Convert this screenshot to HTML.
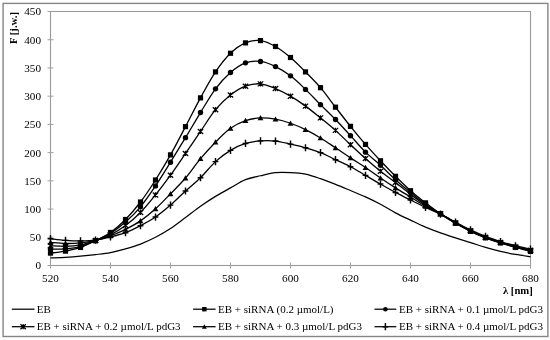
<!DOCTYPE html>
<html><head><meta charset="utf-8"><title>Fluorescence spectra</title>
<style>html,body{margin:0;padding:0;background:#fff}body{width:550px;height:340px;overflow:hidden}</style></head>
<body>
<svg width="550" height="340" viewBox="0 0 550 340" style="display:block">
<rect x="0" y="0" width="550" height="340" fill="#fff"/>
<rect x="3.1" y="3.4" width="544.8" height="333.1" fill="none" stroke="#858585" stroke-width="1.4"/>
<rect x="50.5" y="11.5" width="480.0" height="254.0" fill="none" stroke="#9a9a9a" stroke-width="1.1"/>
<line x1="47.5" x2="53.5" y1="265.5" y2="265.5" stroke="#a0a0a0" stroke-width="1"/>
<text x="41" y="269.4" text-anchor="end" font-family="Liberation Serif, serif" font-size="11.2" fill="#000">0</text>
<line x1="47.5" x2="53.5" y1="237.27777777777777" y2="237.27777777777777" stroke="#a0a0a0" stroke-width="1"/>
<text x="41" y="241.17777777777778" text-anchor="end" font-family="Liberation Serif, serif" font-size="11.2" fill="#000">50</text>
<line x1="47.5" x2="53.5" y1="209.05555555555554" y2="209.05555555555554" stroke="#a0a0a0" stroke-width="1"/>
<text x="41" y="212.95555555555555" text-anchor="end" font-family="Liberation Serif, serif" font-size="11.2" fill="#000">100</text>
<line x1="47.5" x2="53.5" y1="180.83333333333331" y2="180.83333333333331" stroke="#a0a0a0" stroke-width="1"/>
<text x="41" y="184.73333333333332" text-anchor="end" font-family="Liberation Serif, serif" font-size="11.2" fill="#000">150</text>
<line x1="47.5" x2="53.5" y1="152.61111111111111" y2="152.61111111111111" stroke="#a0a0a0" stroke-width="1"/>
<text x="41" y="156.51111111111112" text-anchor="end" font-family="Liberation Serif, serif" font-size="11.2" fill="#000">200</text>
<line x1="47.5" x2="53.5" y1="124.38888888888889" y2="124.38888888888889" stroke="#a0a0a0" stroke-width="1"/>
<text x="41" y="128.2888888888889" text-anchor="end" font-family="Liberation Serif, serif" font-size="11.2" fill="#000">250</text>
<line x1="47.5" x2="53.5" y1="96.16666666666666" y2="96.16666666666666" stroke="#a0a0a0" stroke-width="1"/>
<text x="41" y="100.06666666666666" text-anchor="end" font-family="Liberation Serif, serif" font-size="11.2" fill="#000">300</text>
<line x1="47.5" x2="53.5" y1="67.94444444444446" y2="67.94444444444446" stroke="#a0a0a0" stroke-width="1"/>
<text x="41" y="71.84444444444446" text-anchor="end" font-family="Liberation Serif, serif" font-size="11.2" fill="#000">350</text>
<line x1="47.5" x2="53.5" y1="39.72222222222223" y2="39.72222222222223" stroke="#a0a0a0" stroke-width="1"/>
<text x="41" y="43.62222222222223" text-anchor="end" font-family="Liberation Serif, serif" font-size="11.2" fill="#000">400</text>
<line x1="47.5" x2="53.5" y1="11.5" y2="11.5" stroke="#a0a0a0" stroke-width="1"/>
<text x="41" y="15.4" text-anchor="end" font-family="Liberation Serif, serif" font-size="11.2" fill="#000">450</text>
<line x1="50.5" x2="50.5" y1="262.5" y2="268.5" stroke="#a0a0a0" stroke-width="1"/>
<text x="50.5" y="281.8" text-anchor="middle" font-family="Liberation Serif, serif" font-size="11.2" fill="#000">520</text>
<line x1="110.5" x2="110.5" y1="262.5" y2="268.5" stroke="#a0a0a0" stroke-width="1"/>
<text x="110.5" y="281.8" text-anchor="middle" font-family="Liberation Serif, serif" font-size="11.2" fill="#000">540</text>
<line x1="170.5" x2="170.5" y1="262.5" y2="268.5" stroke="#a0a0a0" stroke-width="1"/>
<text x="170.5" y="281.8" text-anchor="middle" font-family="Liberation Serif, serif" font-size="11.2" fill="#000">560</text>
<line x1="230.5" x2="230.5" y1="262.5" y2="268.5" stroke="#a0a0a0" stroke-width="1"/>
<text x="230.5" y="281.8" text-anchor="middle" font-family="Liberation Serif, serif" font-size="11.2" fill="#000">580</text>
<line x1="290.5" x2="290.5" y1="262.5" y2="268.5" stroke="#a0a0a0" stroke-width="1"/>
<text x="290.5" y="281.8" text-anchor="middle" font-family="Liberation Serif, serif" font-size="11.2" fill="#000">600</text>
<line x1="350.5" x2="350.5" y1="262.5" y2="268.5" stroke="#a0a0a0" stroke-width="1"/>
<text x="350.5" y="281.8" text-anchor="middle" font-family="Liberation Serif, serif" font-size="11.2" fill="#000">620</text>
<line x1="410.5" x2="410.5" y1="262.5" y2="268.5" stroke="#a0a0a0" stroke-width="1"/>
<text x="410.5" y="281.8" text-anchor="middle" font-family="Liberation Serif, serif" font-size="11.2" fill="#000">640</text>
<line x1="470.5" x2="470.5" y1="262.5" y2="268.5" stroke="#a0a0a0" stroke-width="1"/>
<text x="470.5" y="281.8" text-anchor="middle" font-family="Liberation Serif, serif" font-size="11.2" fill="#000">660</text>
<line x1="530.5" x2="530.5" y1="262.5" y2="268.5" stroke="#a0a0a0" stroke-width="1"/>
<text x="530.5" y="281.8" text-anchor="middle" font-family="Liberation Serif, serif" font-size="11.2" fill="#000">680</text>
<text transform="translate(16.8,44) rotate(-90)" font-family="Liberation Serif, serif" font-size="10.7" font-weight="bold" fill="#000">F [j.w.]</text>
<text x="532.8" y="294.4" text-anchor="end" font-family="Liberation Serif, serif" font-size="10.7" font-weight="bold" fill="#000">λ [nm]</text>
<path d="M50.50 257.94C53.00 257.83 60.50 257.61 65.50 257.32C70.50 257.02 75.50 256.64 80.50 256.19C85.50 255.74 90.50 255.22 95.50 254.61C100.50 253.99 105.50 253.48 110.50 252.52C115.50 251.56 120.50 250.26 125.50 248.85C130.50 247.44 135.50 245.98 140.50 244.05C145.50 242.12 150.50 239.86 155.50 237.28C160.50 234.69 165.50 231.82 170.50 228.53C175.50 225.24 180.50 221.24 185.50 217.52C190.50 213.81 195.50 209.76 200.50 206.23C205.50 202.71 210.50 199.41 215.50 196.36C220.50 193.30 225.50 190.66 230.50 187.89C235.50 185.11 240.50 181.73 245.50 179.70C250.50 177.68 255.50 176.92 260.50 175.75C265.50 174.59 270.50 173.22 275.50 172.71C280.50 172.19 285.50 172.40 290.50 172.65C295.50 172.89 300.50 173.17 305.50 174.17C310.50 175.18 315.50 177.00 320.50 178.69C325.50 180.38 330.50 182.36 335.50 184.33C340.50 186.31 345.50 188.44 350.50 190.54C355.50 192.64 360.50 194.63 365.50 196.92C370.50 199.21 375.50 201.60 380.50 204.26C385.50 206.91 390.50 210.19 395.50 212.84C400.50 215.48 405.50 217.74 410.50 220.12C415.50 222.50 420.50 224.99 425.50 227.12C430.50 229.24 435.50 231.09 440.50 232.88C445.50 234.66 450.50 236.23 455.50 237.84C460.50 239.45 465.50 240.93 470.50 242.53C475.50 244.13 480.50 245.96 485.50 247.44C490.50 248.91 495.50 250.21 500.50 251.39C505.50 252.56 510.50 253.61 515.50 254.49C520.50 255.38 528.00 256.33 530.50 256.69" fill="none" stroke="#000" stroke-width="1.25"/>
<path d="M50.50 253.08C53.00 252.75 60.50 252.05 65.50 251.11C70.50 250.17 75.50 249.18 80.50 247.44C85.50 245.70 90.50 243.16 95.50 240.66C100.50 238.17 105.50 236.01 110.50 232.48C115.50 228.95 120.50 224.58 125.50 219.50C130.50 214.42 135.50 208.59 140.50 202.00C145.50 195.41 150.50 187.84 155.50 179.99C160.50 172.13 165.50 163.76 170.50 154.87C175.50 145.98 180.50 136.15 185.50 126.65C190.50 117.15 195.50 106.99 200.50 97.86C205.50 88.73 210.50 79.33 215.50 71.90C220.50 64.46 225.50 58.10 230.50 53.27C235.50 48.43 240.50 45.00 245.50 42.88C250.50 40.77 255.50 39.97 260.50 40.57C265.50 41.17 270.50 43.67 275.50 46.50C280.50 49.32 285.50 53.27 290.50 57.50C295.50 61.74 300.50 66.86 305.50 71.90C310.50 76.93 315.50 81.82 320.50 87.70C325.50 93.58 330.50 100.73 335.50 107.17C340.50 113.62 345.50 120.16 350.50 126.36C355.50 132.57 360.50 138.69 365.50 144.43C370.50 150.17 375.50 155.48 380.50 160.80C385.50 166.11 390.50 171.33 395.50 176.32C400.50 181.30 405.50 186.29 410.50 190.71C415.50 195.13 420.50 198.99 425.50 202.85C430.50 206.70 435.50 210.47 440.50 213.85C445.50 217.24 450.50 220.25 455.50 223.17C460.50 226.08 465.50 228.91 470.50 231.35C475.50 233.80 480.50 235.91 485.50 237.84C490.50 239.77 495.50 241.32 500.50 242.92C505.50 244.52 510.50 246.03 515.50 247.44C520.50 248.85 528.00 250.73 530.50 251.39" fill="none" stroke="#000" stroke-width="1.3" stroke-linejoin="round"/>
<rect x="47.90" y="250.48" width="5.2" height="5.2" fill="#000"/>
<rect x="62.90" y="248.51" width="5.2" height="5.2" fill="#000"/>
<rect x="77.90" y="244.84" width="5.2" height="5.2" fill="#000"/>
<rect x="92.90" y="238.06" width="5.2" height="5.2" fill="#000"/>
<rect x="107.90" y="229.88" width="5.2" height="5.2" fill="#000"/>
<rect x="122.90" y="216.90" width="5.2" height="5.2" fill="#000"/>
<rect x="137.90" y="199.40" width="5.2" height="5.2" fill="#000"/>
<rect x="152.90" y="177.39" width="5.2" height="5.2" fill="#000"/>
<rect x="167.90" y="152.27" width="5.2" height="5.2" fill="#000"/>
<rect x="182.90" y="124.05" width="5.2" height="5.2" fill="#000"/>
<rect x="197.90" y="95.26" width="5.2" height="5.2" fill="#000"/>
<rect x="212.90" y="69.30" width="5.2" height="5.2" fill="#000"/>
<rect x="227.90" y="50.67" width="5.2" height="5.2" fill="#000"/>
<rect x="242.90" y="40.28" width="5.2" height="5.2" fill="#000"/>
<rect x="257.90" y="37.97" width="5.2" height="5.2" fill="#000"/>
<rect x="272.90" y="43.90" width="5.2" height="5.2" fill="#000"/>
<rect x="287.90" y="54.90" width="5.2" height="5.2" fill="#000"/>
<rect x="302.90" y="69.30" width="5.2" height="5.2" fill="#000"/>
<rect x="317.90" y="85.10" width="5.2" height="5.2" fill="#000"/>
<rect x="332.90" y="104.57" width="5.2" height="5.2" fill="#000"/>
<rect x="347.90" y="123.76" width="5.2" height="5.2" fill="#000"/>
<rect x="362.90" y="141.83" width="5.2" height="5.2" fill="#000"/>
<rect x="377.90" y="158.20" width="5.2" height="5.2" fill="#000"/>
<rect x="392.90" y="173.72" width="5.2" height="5.2" fill="#000"/>
<rect x="407.90" y="188.11" width="5.2" height="5.2" fill="#000"/>
<rect x="422.90" y="200.25" width="5.2" height="5.2" fill="#000"/>
<rect x="437.90" y="211.25" width="5.2" height="5.2" fill="#000"/>
<rect x="452.90" y="220.57" width="5.2" height="5.2" fill="#000"/>
<rect x="467.90" y="228.75" width="5.2" height="5.2" fill="#000"/>
<rect x="482.90" y="235.24" width="5.2" height="5.2" fill="#000"/>
<rect x="497.90" y="240.32" width="5.2" height="5.2" fill="#000"/>
<rect x="512.90" y="244.84" width="5.2" height="5.2" fill="#000"/>
<rect x="527.90" y="248.79" width="5.2" height="5.2" fill="#000"/>
<path d="M50.50 249.13C53.00 249.08 60.50 249.27 65.50 248.85C70.50 248.43 75.50 247.96 80.50 246.59C85.50 245.23 90.50 242.88 95.50 240.66C100.50 238.45 105.50 236.43 110.50 233.33C115.50 230.22 120.50 226.46 125.50 222.04C130.50 217.62 135.50 212.82 140.50 206.80C145.50 200.78 150.50 193.35 155.50 185.91C160.50 178.48 165.50 170.25 170.50 162.21C175.50 154.16 180.50 145.93 185.50 137.65C190.50 129.37 195.50 120.67 200.50 112.54C205.50 104.40 210.50 95.51 215.50 88.83C220.50 82.15 225.50 76.79 230.50 72.46C235.50 68.13 240.50 64.70 245.50 62.86C250.50 61.03 255.50 60.83 260.50 61.45C265.50 62.07 270.50 64.19 275.50 66.59C280.50 68.99 285.50 72.05 290.50 75.85C295.50 79.65 300.50 84.60 305.50 89.39C310.50 94.19 315.50 99.62 320.50 104.63C325.50 109.65 330.50 114.30 335.50 119.48C340.50 124.65 345.50 130.23 350.50 135.68C355.50 141.12 360.50 147.22 365.50 152.16C370.50 157.10 375.50 160.72 380.50 165.31C385.50 169.90 390.50 175.18 395.50 179.70C400.50 184.23 405.50 188.42 410.50 192.46C415.50 196.51 420.50 200.41 425.50 203.98C430.50 207.54 435.50 210.68 440.50 213.85C445.50 217.02 450.50 220.13 455.50 223.00C460.50 225.87 465.50 228.64 470.50 231.07C475.50 233.50 480.50 235.63 485.50 237.56C490.50 239.49 495.50 241.06 500.50 242.64C505.50 244.22 510.50 245.71 515.50 247.04C520.50 248.38 528.00 250.05 530.50 250.66" fill="none" stroke="#000" stroke-width="1.3" stroke-linejoin="round"/>
<circle cx="50.50" cy="249.13" r="2.7" fill="#000"/>
<circle cx="65.50" cy="248.85" r="2.7" fill="#000"/>
<circle cx="80.50" cy="246.59" r="2.7" fill="#000"/>
<circle cx="95.50" cy="240.66" r="2.7" fill="#000"/>
<circle cx="110.50" cy="233.33" r="2.7" fill="#000"/>
<circle cx="125.50" cy="222.04" r="2.7" fill="#000"/>
<circle cx="140.50" cy="206.80" r="2.7" fill="#000"/>
<circle cx="155.50" cy="185.91" r="2.7" fill="#000"/>
<circle cx="170.50" cy="162.21" r="2.7" fill="#000"/>
<circle cx="185.50" cy="137.65" r="2.7" fill="#000"/>
<circle cx="200.50" cy="112.54" r="2.7" fill="#000"/>
<circle cx="215.50" cy="88.83" r="2.7" fill="#000"/>
<circle cx="230.50" cy="72.46" r="2.7" fill="#000"/>
<circle cx="245.50" cy="62.86" r="2.7" fill="#000"/>
<circle cx="260.50" cy="61.45" r="2.7" fill="#000"/>
<circle cx="275.50" cy="66.59" r="2.7" fill="#000"/>
<circle cx="290.50" cy="75.85" r="2.7" fill="#000"/>
<circle cx="305.50" cy="89.39" r="2.7" fill="#000"/>
<circle cx="320.50" cy="104.63" r="2.7" fill="#000"/>
<circle cx="335.50" cy="119.48" r="2.7" fill="#000"/>
<circle cx="350.50" cy="135.68" r="2.7" fill="#000"/>
<circle cx="365.50" cy="152.16" r="2.7" fill="#000"/>
<circle cx="380.50" cy="165.31" r="2.7" fill="#000"/>
<circle cx="395.50" cy="179.70" r="2.7" fill="#000"/>
<circle cx="410.50" cy="192.46" r="2.7" fill="#000"/>
<circle cx="425.50" cy="203.98" r="2.7" fill="#000"/>
<circle cx="440.50" cy="213.85" r="2.7" fill="#000"/>
<circle cx="455.50" cy="223.00" r="2.7" fill="#000"/>
<circle cx="470.50" cy="231.07" r="2.7" fill="#000"/>
<circle cx="485.50" cy="237.56" r="2.7" fill="#000"/>
<circle cx="500.50" cy="242.64" r="2.7" fill="#000"/>
<circle cx="515.50" cy="247.04" r="2.7" fill="#000"/>
<circle cx="530.50" cy="250.66" r="2.7" fill="#000"/>
<path d="M50.50 245.74C53.00 245.84 60.50 246.45 65.50 246.31C70.50 246.17 75.50 245.87 80.50 244.90C85.50 243.93 90.50 242.19 95.50 240.50C100.50 238.80 105.50 237.25 110.50 234.74C115.50 232.23 120.50 229.14 125.50 225.42C130.50 221.71 135.50 217.52 140.50 212.44C145.50 207.36 150.50 201.15 155.50 194.94C160.50 188.74 165.50 182.10 170.50 175.19C175.50 168.27 180.50 160.75 185.50 153.46C190.50 146.17 195.50 138.74 200.50 131.44C205.50 124.15 210.50 115.78 215.50 109.71C220.50 103.65 225.50 98.96 230.50 95.04C235.50 91.11 240.50 88.04 245.50 86.18C250.50 84.31 255.50 83.47 260.50 83.86C265.50 84.26 270.50 86.50 275.50 88.55C280.50 90.60 285.50 93.24 290.50 96.17C295.50 99.09 300.50 102.48 305.50 106.10C310.50 109.72 315.50 113.85 320.50 117.90C325.50 121.94 330.50 125.90 335.50 130.37C340.50 134.84 345.50 140.01 350.50 144.71C355.50 149.40 360.50 154.12 365.50 158.54C370.50 162.96 375.50 167.24 380.50 171.24C385.50 175.24 390.50 178.67 395.50 182.53C400.50 186.38 405.50 190.62 410.50 194.38C415.50 198.14 420.50 201.86 425.50 205.10C430.50 208.35 435.50 210.89 440.50 213.85C445.50 216.82 450.50 220.06 455.50 222.88C460.50 225.71 465.50 228.39 470.50 230.79C475.50 233.19 480.50 235.35 485.50 237.28C490.50 239.21 495.50 240.76 500.50 242.36C505.50 243.96 510.50 245.56 515.50 246.87C520.50 248.19 528.00 249.70 530.50 250.26" fill="none" stroke="#000" stroke-width="1.3" stroke-linejoin="round"/>
<path d="M47.80 243.24L53.20 248.24M47.80 248.24L53.20 243.24M50.50 243.14L50.50 248.34" stroke="#000" stroke-width="1.25" fill="none"/>
<path d="M62.80 243.81L68.20 248.81M62.80 248.81L68.20 243.81M65.50 243.71L65.50 248.91" stroke="#000" stroke-width="1.25" fill="none"/>
<path d="M77.80 242.40L83.20 247.40M77.80 247.40L83.20 242.40M80.50 242.30L80.50 247.50" stroke="#000" stroke-width="1.25" fill="none"/>
<path d="M92.80 238.00L98.20 243.00M92.80 243.00L98.20 238.00M95.50 237.90L95.50 243.10" stroke="#000" stroke-width="1.25" fill="none"/>
<path d="M107.80 232.24L113.20 237.24M107.80 237.24L113.20 232.24M110.50 232.14L110.50 237.34" stroke="#000" stroke-width="1.25" fill="none"/>
<path d="M122.80 222.92L128.20 227.92M122.80 227.92L128.20 222.92M125.50 222.82L125.50 228.02" stroke="#000" stroke-width="1.25" fill="none"/>
<path d="M137.80 209.94L143.20 214.94M137.80 214.94L143.20 209.94M140.50 209.84L140.50 215.04" stroke="#000" stroke-width="1.25" fill="none"/>
<path d="M152.80 192.44L158.20 197.44M152.80 197.44L158.20 192.44M155.50 192.34L155.50 197.54" stroke="#000" stroke-width="1.25" fill="none"/>
<path d="M167.80 172.69L173.20 177.69M167.80 177.69L173.20 172.69M170.50 172.59L170.50 177.79" stroke="#000" stroke-width="1.25" fill="none"/>
<path d="M182.80 150.96L188.20 155.96M182.80 155.96L188.20 150.96M185.50 150.86L185.50 156.06" stroke="#000" stroke-width="1.25" fill="none"/>
<path d="M197.80 128.94L203.20 133.94M197.80 133.94L203.20 128.94M200.50 128.84L200.50 134.04" stroke="#000" stroke-width="1.25" fill="none"/>
<path d="M212.80 107.21L218.20 112.21M212.80 112.21L218.20 107.21M215.50 107.11L215.50 112.31" stroke="#000" stroke-width="1.25" fill="none"/>
<path d="M227.80 92.54L233.20 97.54M227.80 97.54L233.20 92.54M230.50 92.44L230.50 97.64" stroke="#000" stroke-width="1.25" fill="none"/>
<path d="M242.80 83.68L248.20 88.68M242.80 88.68L248.20 83.68M245.50 83.58L245.50 88.78" stroke="#000" stroke-width="1.25" fill="none"/>
<path d="M257.80 81.36L263.20 86.36M257.80 86.36L263.20 81.36M260.50 81.26L260.50 86.46" stroke="#000" stroke-width="1.25" fill="none"/>
<path d="M272.80 86.05L278.20 91.05M272.80 91.05L278.20 86.05M275.50 85.95L275.50 91.15" stroke="#000" stroke-width="1.25" fill="none"/>
<path d="M287.80 93.67L293.20 98.67M287.80 98.67L293.20 93.67M290.50 93.57L290.50 98.77" stroke="#000" stroke-width="1.25" fill="none"/>
<path d="M302.80 103.60L308.20 108.60M302.80 108.60L308.20 103.60M305.50 103.50L305.50 108.70" stroke="#000" stroke-width="1.25" fill="none"/>
<path d="M317.80 115.40L323.20 120.40M317.80 120.40L323.20 115.40M320.50 115.30L320.50 120.50" stroke="#000" stroke-width="1.25" fill="none"/>
<path d="M332.80 127.87L338.20 132.87M332.80 132.87L338.20 127.87M335.50 127.77L335.50 132.97" stroke="#000" stroke-width="1.25" fill="none"/>
<path d="M347.80 142.21L353.20 147.21M347.80 147.21L353.20 142.21M350.50 142.11L350.50 147.31" stroke="#000" stroke-width="1.25" fill="none"/>
<path d="M362.80 156.04L368.20 161.04M362.80 161.04L368.20 156.04M365.50 155.94L365.50 161.14" stroke="#000" stroke-width="1.25" fill="none"/>
<path d="M377.80 168.74L383.20 173.74M377.80 173.74L383.20 168.74M380.50 168.64L380.50 173.84" stroke="#000" stroke-width="1.25" fill="none"/>
<path d="M392.80 180.03L398.20 185.03M392.80 185.03L398.20 180.03M395.50 179.93L395.50 185.13" stroke="#000" stroke-width="1.25" fill="none"/>
<path d="M407.80 191.88L413.20 196.88M407.80 196.88L413.20 191.88M410.50 191.78L410.50 196.98" stroke="#000" stroke-width="1.25" fill="none"/>
<path d="M422.80 202.60L428.20 207.60M422.80 207.60L428.20 202.60M425.50 202.50L425.50 207.70" stroke="#000" stroke-width="1.25" fill="none"/>
<path d="M437.80 211.35L443.20 216.35M437.80 216.35L443.20 211.35M440.50 211.25L440.50 216.45" stroke="#000" stroke-width="1.25" fill="none"/>
<path d="M452.80 220.38L458.20 225.38M452.80 225.38L458.20 220.38M455.50 220.28L455.50 225.48" stroke="#000" stroke-width="1.25" fill="none"/>
<path d="M467.80 228.29L473.20 233.29M467.80 233.29L473.20 228.29M470.50 228.19L470.50 233.39" stroke="#000" stroke-width="1.25" fill="none"/>
<path d="M482.80 234.78L488.20 239.78M482.80 239.78L488.20 234.78M485.50 234.68L485.50 239.88" stroke="#000" stroke-width="1.25" fill="none"/>
<path d="M497.80 239.86L503.20 244.86M497.80 244.86L503.20 239.86M500.50 239.76L500.50 244.96" stroke="#000" stroke-width="1.25" fill="none"/>
<path d="M512.80 244.37L518.20 249.37M512.80 249.37L518.20 244.37M515.50 244.27L515.50 249.47" stroke="#000" stroke-width="1.25" fill="none"/>
<path d="M527.80 247.76L533.20 252.76M527.80 252.76L533.20 247.76M530.50 247.66L530.50 252.86" stroke="#000" stroke-width="1.25" fill="none"/>
<path d="M50.50 242.36C53.00 242.55 60.50 243.39 65.50 243.49C70.50 243.58 75.50 243.44 80.50 242.92C85.50 242.40 90.50 241.56 95.50 240.38C100.50 239.21 105.50 237.70 110.50 235.87C115.50 234.03 120.50 231.87 125.50 229.38C130.50 226.88 135.50 224.33 140.50 220.91C145.50 217.48 150.50 213.35 155.50 208.83C160.50 204.31 165.50 198.95 170.50 193.82C175.50 188.68 180.50 183.87 185.50 178.01C190.50 172.15 195.50 164.62 200.50 158.65C205.50 152.68 210.50 147.22 215.50 142.17C220.50 137.12 225.50 131.93 230.50 128.34C235.50 124.75 240.50 122.35 245.50 120.61C250.50 118.87 255.50 118.13 260.50 117.90C265.50 117.66 270.50 118.30 275.50 119.20C280.50 120.09 285.50 121.52 290.50 123.26C295.50 125.00 300.50 127.19 305.50 129.64C310.50 132.08 315.50 134.91 320.50 137.94C325.50 140.96 330.50 144.49 335.50 147.81C340.50 151.13 345.50 154.57 350.50 157.86C355.50 161.15 360.50 164.21 365.50 167.57C370.50 170.93 375.50 174.62 380.50 178.01C385.50 181.40 390.50 184.72 395.50 187.89C400.50 191.06 405.50 193.98 410.50 197.03C415.50 200.09 420.50 203.41 425.50 206.23C430.50 209.06 435.50 211.21 440.50 213.97C445.50 216.72 450.50 219.99 455.50 222.77C460.50 225.56 465.50 228.27 470.50 230.67C475.50 233.07 480.50 235.26 485.50 237.16C490.50 239.07 495.50 240.50 500.50 242.08C505.50 243.65 510.50 245.27 515.50 246.59C520.50 247.91 528.00 249.41 530.50 249.98" fill="none" stroke="#000" stroke-width="1.3" stroke-linejoin="round"/>
<path d="M50.50 239.56L53.40 244.76L47.60 244.76Z" fill="#000"/>
<path d="M65.50 240.69L68.40 245.89L62.60 245.89Z" fill="#000"/>
<path d="M80.50 240.12L83.40 245.32L77.60 245.32Z" fill="#000"/>
<path d="M95.50 237.58L98.40 242.78L92.60 242.78Z" fill="#000"/>
<path d="M110.50 233.07L113.40 238.27L107.60 238.27Z" fill="#000"/>
<path d="M125.50 226.58L128.40 231.78L122.60 231.78Z" fill="#000"/>
<path d="M140.50 218.11L143.40 223.31L137.60 223.31Z" fill="#000"/>
<path d="M155.50 206.03L158.40 211.23L152.60 211.23Z" fill="#000"/>
<path d="M170.50 191.02L173.40 196.22L167.60 196.22Z" fill="#000"/>
<path d="M185.50 175.21L188.40 180.41L182.60 180.41Z" fill="#000"/>
<path d="M200.50 155.85L203.40 161.05L197.60 161.05Z" fill="#000"/>
<path d="M215.50 139.37L218.40 144.57L212.60 144.57Z" fill="#000"/>
<path d="M230.50 125.54L233.40 130.74L227.60 130.74Z" fill="#000"/>
<path d="M245.50 117.81L248.40 123.01L242.60 123.01Z" fill="#000"/>
<path d="M260.50 115.10L263.40 120.30L257.60 120.30Z" fill="#000"/>
<path d="M275.50 116.40L278.40 121.60L272.60 121.60Z" fill="#000"/>
<path d="M290.50 120.46L293.40 125.66L287.60 125.66Z" fill="#000"/>
<path d="M305.50 126.84L308.40 132.04L302.60 132.04Z" fill="#000"/>
<path d="M320.50 135.14L323.40 140.34L317.60 140.34Z" fill="#000"/>
<path d="M335.50 145.01L338.40 150.21L332.60 150.21Z" fill="#000"/>
<path d="M350.50 155.06L353.40 160.26L347.60 160.26Z" fill="#000"/>
<path d="M365.50 164.77L368.40 169.97L362.60 169.97Z" fill="#000"/>
<path d="M380.50 175.21L383.40 180.41L377.60 180.41Z" fill="#000"/>
<path d="M395.50 185.09L398.40 190.29L392.60 190.29Z" fill="#000"/>
<path d="M410.50 194.23L413.40 199.43L407.60 199.43Z" fill="#000"/>
<path d="M425.50 203.43L428.40 208.63L422.60 208.63Z" fill="#000"/>
<path d="M440.50 211.17L443.40 216.37L437.60 216.37Z" fill="#000"/>
<path d="M455.50 219.97L458.40 225.17L452.60 225.17Z" fill="#000"/>
<path d="M470.50 227.87L473.40 233.07L467.60 233.07Z" fill="#000"/>
<path d="M485.50 234.36L488.40 239.56L482.60 239.56Z" fill="#000"/>
<path d="M500.50 239.28L503.40 244.48L497.60 244.48Z" fill="#000"/>
<path d="M515.50 243.79L518.40 248.99L512.60 248.99Z" fill="#000"/>
<path d="M530.50 247.18L533.40 252.38L527.60 252.38Z" fill="#000"/>
<path d="M50.50 238.69C53.00 238.97 60.50 240.01 65.50 240.38C70.50 240.76 75.50 240.97 80.50 240.95C85.50 240.92 90.50 240.87 95.50 240.21C100.50 239.55 105.50 238.26 110.50 237.00C115.50 235.73 120.50 234.54 125.50 232.65C130.50 230.76 135.50 228.25 140.50 225.65C145.50 223.05 150.50 220.49 155.50 217.07C160.50 213.65 165.50 209.45 170.50 205.10C175.50 200.76 180.50 195.56 185.50 190.99C190.50 186.43 195.50 182.62 200.50 177.73C205.50 172.84 210.50 166.20 215.50 161.64C220.50 157.08 225.50 153.39 230.50 150.35C235.50 147.31 240.50 144.99 245.50 143.41C250.50 141.83 255.50 141.27 260.50 140.87C265.50 140.48 270.50 140.49 275.50 141.04C280.50 141.59 285.50 143.02 290.50 144.14C295.50 145.26 300.50 146.35 305.50 147.76C310.50 149.17 315.50 150.63 320.50 152.61C325.50 154.60 330.50 157.31 335.50 159.67C340.50 162.02 345.50 164.11 350.50 166.72C355.50 169.34 360.50 172.47 365.50 175.36C370.50 178.25 375.50 181.21 380.50 184.05C385.50 186.89 390.50 189.74 395.50 192.40C400.50 195.07 405.50 197.53 410.50 200.02C415.50 202.52 420.50 205.01 425.50 207.36C430.50 209.71 435.50 211.69 440.50 214.14C445.50 216.58 450.50 219.40 455.50 222.04C460.50 224.67 465.50 227.54 470.50 229.94C475.50 232.34 480.50 234.50 485.50 236.43C490.50 238.36 495.50 239.96 500.50 241.51C505.50 243.06 510.50 244.47 515.50 245.74C520.50 247.01 528.00 248.57 530.50 249.13" fill="none" stroke="#000" stroke-width="1.3" stroke-linejoin="round"/>
<path d="M47.60 238.69L53.40 238.69M50.50 235.09L50.50 242.29" stroke="#000" stroke-width="1.45" fill="none"/>
<path d="M62.60 240.38L68.40 240.38M65.50 236.78L65.50 243.98" stroke="#000" stroke-width="1.45" fill="none"/>
<path d="M77.60 240.95L83.40 240.95M80.50 237.35L80.50 244.55" stroke="#000" stroke-width="1.45" fill="none"/>
<path d="M92.60 240.21L98.40 240.21M95.50 236.61L95.50 243.81" stroke="#000" stroke-width="1.45" fill="none"/>
<path d="M107.60 237.00L113.40 237.00M110.50 233.40L110.50 240.60" stroke="#000" stroke-width="1.45" fill="none"/>
<path d="M122.60 232.65L128.40 232.65M125.50 229.05L125.50 236.25" stroke="#000" stroke-width="1.45" fill="none"/>
<path d="M137.60 225.65L143.40 225.65M140.50 222.05L140.50 229.25" stroke="#000" stroke-width="1.45" fill="none"/>
<path d="M152.60 217.07L158.40 217.07M155.50 213.47L155.50 220.67" stroke="#000" stroke-width="1.45" fill="none"/>
<path d="M167.60 205.10L173.40 205.10M170.50 201.50L170.50 208.70" stroke="#000" stroke-width="1.45" fill="none"/>
<path d="M182.60 190.99L188.40 190.99M185.50 187.39L185.50 194.59" stroke="#000" stroke-width="1.45" fill="none"/>
<path d="M197.60 177.73L203.40 177.73M200.50 174.13L200.50 181.33" stroke="#000" stroke-width="1.45" fill="none"/>
<path d="M212.60 161.64L218.40 161.64M215.50 158.04L215.50 165.24" stroke="#000" stroke-width="1.45" fill="none"/>
<path d="M227.60 150.35L233.40 150.35M230.50 146.75L230.50 153.95" stroke="#000" stroke-width="1.45" fill="none"/>
<path d="M242.60 143.41L248.40 143.41M245.50 139.81L245.50 147.01" stroke="#000" stroke-width="1.45" fill="none"/>
<path d="M257.60 140.87L263.40 140.87M260.50 137.27L260.50 144.47" stroke="#000" stroke-width="1.45" fill="none"/>
<path d="M272.60 141.04L278.40 141.04M275.50 137.44L275.50 144.64" stroke="#000" stroke-width="1.45" fill="none"/>
<path d="M287.60 144.14L293.40 144.14M290.50 140.54L290.50 147.74" stroke="#000" stroke-width="1.45" fill="none"/>
<path d="M302.60 147.76L308.40 147.76M305.50 144.16L305.50 151.36" stroke="#000" stroke-width="1.45" fill="none"/>
<path d="M317.60 152.61L323.40 152.61M320.50 149.01L320.50 156.21" stroke="#000" stroke-width="1.45" fill="none"/>
<path d="M332.60 159.67L338.40 159.67M335.50 156.07L335.50 163.27" stroke="#000" stroke-width="1.45" fill="none"/>
<path d="M347.60 166.72L353.40 166.72M350.50 163.12L350.50 170.32" stroke="#000" stroke-width="1.45" fill="none"/>
<path d="M362.60 175.36L368.40 175.36M365.50 171.76L365.50 178.96" stroke="#000" stroke-width="1.45" fill="none"/>
<path d="M377.60 184.05L383.40 184.05M380.50 180.45L380.50 187.65" stroke="#000" stroke-width="1.45" fill="none"/>
<path d="M392.60 192.40L398.40 192.40M395.50 188.80L395.50 196.00" stroke="#000" stroke-width="1.45" fill="none"/>
<path d="M407.60 200.02L413.40 200.02M410.50 196.42L410.50 203.62" stroke="#000" stroke-width="1.45" fill="none"/>
<path d="M422.60 207.36L428.40 207.36M425.50 203.76L425.50 210.96" stroke="#000" stroke-width="1.45" fill="none"/>
<path d="M437.60 214.14L443.40 214.14M440.50 210.54L440.50 217.74" stroke="#000" stroke-width="1.45" fill="none"/>
<path d="M452.60 222.04L458.40 222.04M455.50 218.44L455.50 225.64" stroke="#000" stroke-width="1.45" fill="none"/>
<path d="M467.60 229.94L473.40 229.94M470.50 226.34L470.50 233.54" stroke="#000" stroke-width="1.45" fill="none"/>
<path d="M482.60 236.43L488.40 236.43M485.50 232.83L485.50 240.03" stroke="#000" stroke-width="1.45" fill="none"/>
<path d="M497.60 241.51L503.40 241.51M500.50 237.91L500.50 245.11" stroke="#000" stroke-width="1.45" fill="none"/>
<path d="M512.60 245.74L518.40 245.74M515.50 242.14L515.50 249.34" stroke="#000" stroke-width="1.45" fill="none"/>
<path d="M527.60 249.13L533.40 249.13M530.50 245.53L530.50 252.73" stroke="#000" stroke-width="1.45" fill="none"/>
<line x1="11.8" x2="34.5" y1="309.2" y2="309.2" stroke="#000" stroke-width="1.25"/>
<text x="36.7" y="312.8" font-family="Liberation Serif, serif" font-size="11" fill="#000">EB</text>
<line x1="193.1" x2="215.6" y1="309.2" y2="309.2" stroke="#000" stroke-width="1.25"/>
<g transform="translate(204.35,309.2) scale(0.85) translate(-204.35,-309.2)"><rect x="201.75" y="306.60" width="5.2" height="5.2" fill="#000"/></g>
<text x="218" y="312.8" font-family="Liberation Serif, serif" font-size="11" fill="#000">EB + siRNA (0.2 µmol/L)</text>
<line x1="374.5" x2="396.3" y1="309.2" y2="309.2" stroke="#000" stroke-width="1.25"/>
<g transform="translate(385.4,309.2) scale(0.85) translate(-385.4,-309.2)"><circle cx="385.40" cy="309.20" r="2.7" fill="#000"/></g>
<text x="399" y="312.8" font-family="Liberation Serif, serif" font-size="11" fill="#000">EB + siRNA + 0.1 µmol/L pdG3</text>
<line x1="11.8" x2="34.5" y1="326.7" y2="326.7" stroke="#000" stroke-width="1.25"/>
<g transform="translate(23.15,326.7) scale(1.0) translate(-23.15,-326.7)"><path d="M20.45 324.20L25.85 329.20M20.45 329.20L25.85 324.20M23.15 324.10L23.15 329.30" stroke="#000" stroke-width="1.25" fill="none"/></g>
<text x="36.7" y="330.3" font-family="Liberation Serif, serif" font-size="11" fill="#000">EB + siRNA + 0.2 µmol/L pdG3</text>
<line x1="193.1" x2="215.6" y1="326.7" y2="326.7" stroke="#000" stroke-width="1.25"/>
<g transform="translate(204.35,326.7) scale(0.85) translate(-204.35,-326.7)"><path d="M204.35 323.90L207.25 329.10L201.45 329.10Z" fill="#000"/></g>
<text x="218" y="330.3" font-family="Liberation Serif, serif" font-size="11" fill="#000">EB + siRNA + 0.3 µmol/L pdG3</text>
<line x1="374.5" x2="396.3" y1="326.7" y2="326.7" stroke="#000" stroke-width="1.25"/>
<g transform="translate(385.4,326.7) scale(1.0) translate(-385.4,-326.7)"><path d="M382.50 326.70L388.30 326.70M385.40 323.10L385.40 330.30" stroke="#000" stroke-width="1.45" fill="none"/></g>
<text x="399" y="330.3" font-family="Liberation Serif, serif" font-size="11" fill="#000">EB + siRNA + 0.4 µmol/L pdG3</text>
</svg>
</body></html>
